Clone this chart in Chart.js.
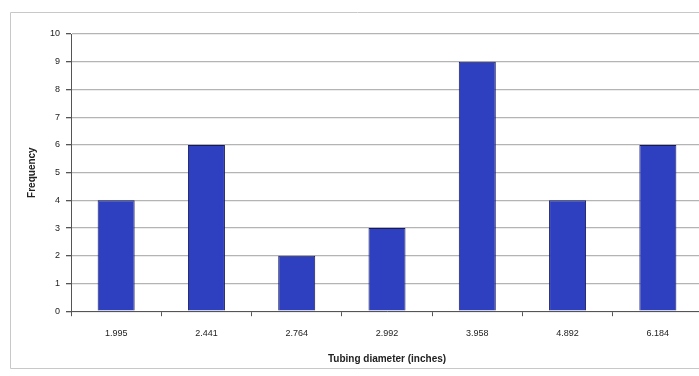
<!DOCTYPE html>
<html><head><meta charset="utf-8">
<script src="https://cdn.jsdelivr.net/npm/chart.js@4.4.0/dist/chart.umd.min.js"></script>
<style>html,body{margin:0;padding:0;background:#fff;overflow:hidden;}#wrap{width:699px;height:376px;overflow:hidden;}</style>
</head><body><div id="wrap"><canvas id="c" width="703" height="376"></canvas></div>
<script>
const categories = ["1.995","2.441","2.764","2.992","3.958","4.892","6.184"];
const frequency = [4,6,2,3,9,4,6];
const yTicks = [0,1,2,3,4,5,6,7,8,9,10];

const frame = {
  id:'frame',
  beforeDraw(chart){
    const ctx=chart.ctx;
    ctx.save();
    ctx.strokeStyle='#c8c8c8';
    ctx.lineWidth=1;
    ctx.beginPath();
    ctx.moveTo(705,12.5);ctx.lineTo(10.5,12.5);ctx.lineTo(10.5,368.5);ctx.lineTo(705,368.5);
    ctx.stroke();
    ctx.restore();
  }
};

new Chart(document.getElementById('c'),{
  type:'bar',
  data:{labels:categories,datasets:[{data:frequency,backgroundColor:'#2e40c0',borderColor:'#161a5a',borderWidth:1,categoryPercentage:1,barPercentage:0.41}]},
  options:{
    responsive:false,animation:false,
    layout:{padding:{left:22,right:0,top:34,bottom:7}},
    plugins:{legend:{display:false},tooltip:{enabled:false}},
    scales:{
      x:{
        grid:{drawOnChartArea:false,drawTicks:true,tickLength:5,color:'#555',offset:true},
        border:{color:'#555',width:1},
        ticks:{color:'#222',font:{family:'Arial, Liberation Sans',size:9},padding:12},
        title:{display:true,text:'Tubing diameter (inches)',color:'#222',font:{family:'Arial, Liberation Sans',size:10,weight:'bold'},padding:{top:2}}
      },
      y:{
        min:0,max:10,
        afterBuildTicks(axis){axis.ticks=yTicks.map(v=>({value:v}));},
        grid:{color:'#b4b4b4',lineWidth:1.3,tickLength:5,tickColor:'#555'},
        border:{color:'#555',width:1},
        ticks:{color:'#222',font:{family:'Arial, Liberation Sans',size:9},padding:6},
        title:{display:true,text:'Frequency',color:'#222',font:{family:'Arial, Liberation Sans',size:10,weight:'bold'},padding:{bottom:6}}
      }
    }
  },
  plugins:[frame]
});
</script></body></html>
